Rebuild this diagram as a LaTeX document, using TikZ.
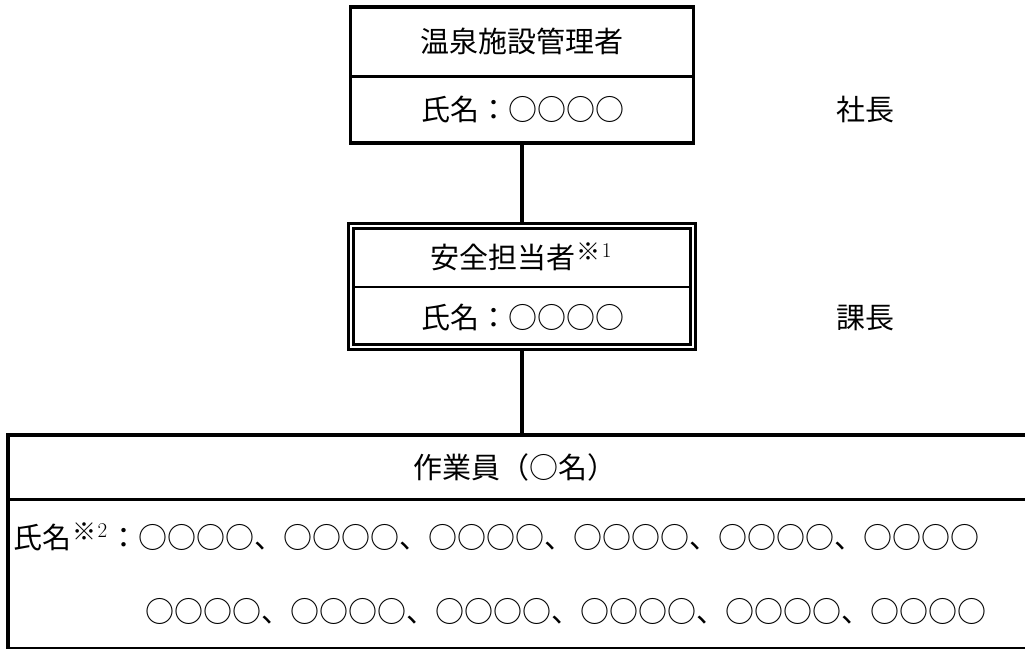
\documentclass[tikz,border=0pt]{standalone}
\usepackage{fontspec}
\newfontfamily\jp{Noto Sans CJK JP}
\newcommand\notemark[2]{\hspace{1pt}\raisebox{8pt}{\fontsize{24}{24}\selectfont ※}\hspace{1.5pt}\raisebox{11pt}{\fontsize{21}{21}\selectfont\rmfamily #1}\hspace{#2}}
\begin{document}
\begin{tikzpicture}[x=1pt,y=1pt,
  boxline/.style={draw, line width=3.6pt, inner sep=0pt, outer sep=0pt},
  dblbox/.style={draw, line width=3pt, double, double distance=2pt, inner sep=0pt, outer sep=0pt},
  sepline/.style={line width=3pt},
  conn/.style={line width=3.6pt},
  lbl/.style={font=\jp\fontsize{29}{34}\selectfont, inner sep=0pt, anchor=base}]
\useasboundingbox (0,0) rectangle (1025,648);
% boxes
\node[boxline, minimum width=343pt, minimum height=136pt] (top) at (522,573) {};
\draw[sepline] (350.5,571) -- (693.5,571);
\node[dblbox, minimum width=342pt, minimum height=121pt] (mid) at (522,361) {};
\draw[sepline, line width=2.6pt] (353.5,361) -- (690.5,361);
\node[boxline, minimum width=1024pt, minimum height=213.5pt] (bot) at (520,106.25) {};
\draw[sepline] (8,148) -- (1032,148);
% connectors
\draw[conn] (top.south) -- ([yshift=4pt]mid.north);
\draw[conn] ([yshift=-4pt]mid.south) -- (mid.south |- bot.north);
% texts
\node[lbl] (t1) at (522,595.5) {温泉施設管理者};
\node[lbl] (t2) at (523,527.5) {氏名：○○○○};
\node[lbl] (r1) at (865,527.5) {社長};
\node[lbl] (t3) at (521,379.5) {安全担当者\notemark{1}{0pt}};
\node[lbl] (t4) at (523,319.5) {氏名：○○○○};
\node[lbl] (r2) at (865,319.5) {課長};
\node[lbl] (t5) at (515,169.5) {作業員（○名）};
\node[lbl, anchor=base west] (n1) at (13,99.5) {氏名\notemark{2}{2pt}：○○○○、○○○○、○○○○、○○○○、○○○○、○○○○};
\node[lbl, anchor=base west] (n2) at (145,25.5) {○○○○、○○○○、○○○○、○○○○、○○○○、○○○○};
\end{tikzpicture}
\end{document}
